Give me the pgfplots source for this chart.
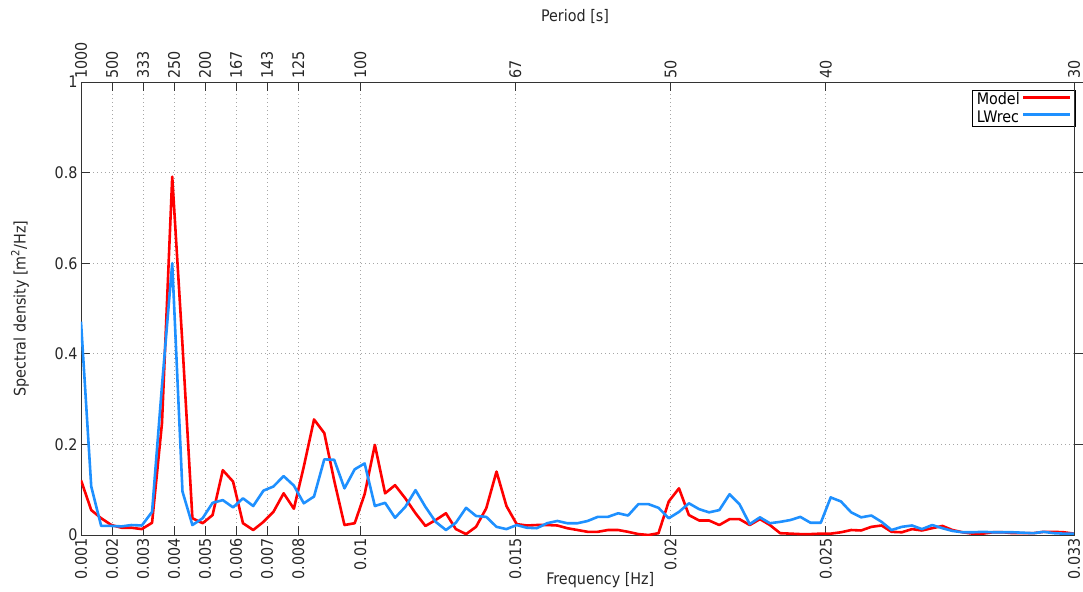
\documentclass[border=0pt]{standalone}
\usepackage{fontspec}
\setmainfont{DejaVu Sans Condensed}
\usepackage{pgfplots}
\pgfplotsset{compat=1.18}
\usepackage{pgfplotstable}
\definecolor{lwblue}{RGB}{30,144,255}
\definecolor{modred}{RGB}{255,0,0}

\pgfplotstableread{
f m l
0.00100 0.121 0.471
0.00133 0.055 0.107
0.00165 0.037 0.020
0.00198 0.022 0.020
0.00231 0.016 0.019
0.00263 0.016 0.022
0.00296 0.013 0.021
0.00329 0.027 0.051
0.00361 0.247 0.330
0.00394 0.791 0.600
0.00427 0.420 0.096
0.00459 0.037 0.022
0.00492 0.026 0.037
0.00524 0.044 0.071
0.00557 0.143 0.077
0.00590 0.118 0.061
0.00622 0.026 0.081
0.00655 0.011 0.064
0.00688 0.029 0.098
0.00720 0.051 0.107
0.00753 0.092 0.130
0.00786 0.058 0.109
0.00818 0.151 0.070
0.00851 0.255 0.085
0.00884 0.225 0.167
0.00916 0.120 0.166
0.00949 0.022 0.103
0.00982 0.026 0.145
0.01014 0.090 0.158
0.01047 0.199 0.064
0.01080 0.092 0.071
0.01112 0.110 0.038
0.01145 0.081 0.062
0.01178 0.048 0.099
0.01210 0.020 0.062
0.01243 0.033 0.029
0.01276 0.048 0.011
0.01308 0.013 0.027
0.01341 0.002 0.060
0.01373 0.018 0.042
0.01406 0.059 0.040
0.01439 0.140 0.018
0.01471 0.064 0.013
0.01504 0.024 0.022
0.01537 0.021 0.016
0.01569 0.022 0.015
0.01602 0.022 0.026
0.01635 0.021 0.031
0.01667 0.015 0.026
0.01700 0.011 0.026
0.01733 0.007 0.031
0.01765 0.007 0.040
0.01798 0.011 0.040
0.01831 0.011 0.048
0.01863 0.007 0.043
0.01896 0.002 0.068
0.01929 0.000 0.068
0.01961 0.004 0.060
0.01994 0.074 0.037
0.02027 0.103 0.051
0.02059 0.044 0.070
0.02092 0.032 0.057
0.02124 0.032 0.050
0.02157 0.022 0.055
0.02190 0.035 0.090
0.02222 0.035 0.068
0.02255 0.022 0.024
0.02288 0.035 0.039
0.02320 0.022 0.026
0.02353 0.004 0.029
0.02386 0.003 0.033
0.02418 0.002 0.040
0.02451 0.002 0.027
0.02484 0.003 0.027
0.02516 0.003 0.083
0.02549 0.006 0.074
0.02582 0.011 0.050
0.02614 0.010 0.039
0.02647 0.018 0.043
0.02680 0.021 0.029
0.02712 0.007 0.011
0.02745 0.006 0.018
0.02778 0.013 0.021
0.02810 0.010 0.013
0.02843 0.015 0.022
0.02876 0.020 0.015
0.02908 0.011 0.009
0.02941 0.006 0.006
0.02973 0.003 0.006
0.03006 0.003 0.007
0.03039 0.006 0.006
0.03071 0.006 0.006
0.03104 0.004 0.006
0.03137 0.004 0.005
0.03169 0.004 0.004
0.03202 0.007 0.007
0.03235 0.007 0.004
0.03267 0.006 0.003
0.03300 0.003 0.003
}\spec

\begin{document}
\begin{tikzpicture}
\pgfplotsset{
  base/.style={
    scale only axis, width=993bp, height=453bp,
    xmin=0.001, xmax=0.033, ymin=0, ymax=1,
    scaled x ticks=false, scaled y ticks=false,
    /pgf/number format/assume math mode=true,
    tick label style={font=\fontsize{16}{19}\selectfont, text=black!85},
    label style={font=\fontsize{16}{19}\selectfont, text=black!85},
    major tick length=9bp,
    tick style={black!80, line width=0.8bp},
    axis line style={black!80, line width=0.8bp},
    xtick={0.001,0.002,0.003,0.004,0.005,0.006,0.007,0.008,0.01,0.015,0.02,0.025,0.033},
  },
}
% main axis
\begin{axis}[base,
  xtick pos=left, ytick pos=left, tick align=inside,
  xticklabels={0.001,0.002,0.003,0.004,0.005,0.006,0.007,0.008,0.01,0.015,0.02,0.025,0.033},
  xticklabel style={rotate=90, anchor=east},
  ytick={0,0.2,0.4,0.6,0.8,1},
  yticklabels={0,0.2,0.4,0.6,0.8,1},
  grid=major,
  major grid style={gray!70, line width=0.7bp, dash pattern=on 1bp off 3bp},
  xlabel={Frequency [Hz]},
  ylabel={Spectral density [m\textsuperscript{2}/Hz]},
  x label style={at={(axis description cs:0.523,-0.099)}, anchor=center},
  y label style={at={(axis description cs:-0.0614,0.5)}, anchor=center},
  legend cell align=left,
  legend plot pos=right,
  legend style={at={(axis description cs:1.001,0.982)}, anchor=north east,
    draw=black, font=\fontsize{16}{17}\selectfont,
    inner xsep=3bp, inner ysep=0.5bp, row sep=0bp,
    /tikz/every even column/.append style={column sep=7bp}},
  legend image code/.code={\draw[#1, line width=3bp, line cap=butt] (0bp,0.25em) -- (47bp,0.25em);},
]
\addplot[modred, line width=2.6bp, line join=round] table[x=f, y=m] {\spec};
\addlegendentry{Model}
\addplot[lwblue, line width=2.6bp, line join=round] table[x=f, y=l] {\spec};
\addlegendentry{LWrec}
\end{axis}
% top axis
\begin{axis}[base,
  axis x line*=top, axis y line=none, tick align=inside,
  xticklabels={1000,500,333,250,200,167,143,125,100,67,50,40,30},
  xticklabel style={rotate=90, anchor=west},
  xlabel={Period [s]},
  x label style={at={(axis description cs:0.4975,1.1435)}, anchor=center},
]
\end{axis}
% right ticks
\begin{axis}[base,
  axis y line*=right, axis x line=none, tick align=outside,
  ytick={0.2,0.4,0.6,0.8,1}, yticklabels={},
]
\end{axis}
\pgfresetboundingbox
\useasboundingbox (-81bp,-57bp) rectangle (1002bp,535bp);
\end{tikzpicture}
\end{document}
